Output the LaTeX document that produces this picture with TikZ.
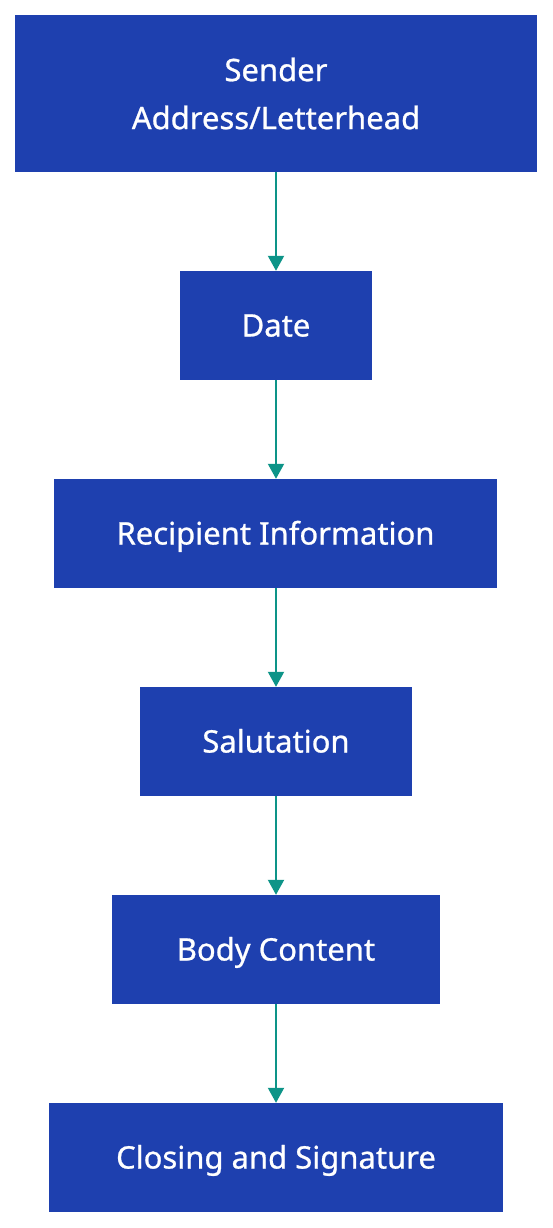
\documentclass[tikz,border=0pt]{standalone}
\usepackage{fontspec}
\setmainfont{Noto Sans}
\newfontfamily\boxfont{Noto Sans}[FakeBold=0.8]
\usetikzlibrary{arrows.meta}
\definecolor{boxblue}{HTML}{1E40AF}
\definecolor{arrteal}{HTML}{0D9488}
\tikzset{
  stepbox/.style={fill=boxblue, draw=none, text=white, inner sep=0pt, align=center,
    font=\boxfont\fontsize{31}{48}\selectfont},
  oneline/.style={stepbox, text height=22pt, text depth=0pt, minimum height=109pt},
  flow/.style={draw=arrteal, line width=2pt, -{Triangle[length=15pt,width=16pt]}, shorten >=0pt}
}
\begin{document}
\begin{tikzpicture}[x=1pt,y=-1pt]
\useasboundingbox (0,0) rectangle (552,1228);
\node[stepbox, minimum width=522pt, minimum height=157pt] (sender) at (276,93.5) {Sender\\Address/Letterhead};
\node[oneline, minimum width=192pt] (date) at (276,325.5) {Date};
\node[oneline, minimum width=443pt] (recip) at (275.5,533.5) {Recipient Information};
\node[oneline, minimum width=272pt] (salut) at (276,741.5) {Salutation};
\node[oneline, minimum width=328pt] (body) at (276,949.5) {Body Content};
\node[oneline, minimum width=454pt] (close) at (276,1157.5) {Closing and Signature};
\draw[flow] (sender.south -| date.north) -- (date.north);
\draw[flow] (date.south) -- (date.south |- recip.north);
\draw[flow] (date.south |- recip.south) -- (date.south |- salut.north);
\draw[flow] (salut.south) -- (body.north);
\draw[flow] (body.south) -- (close.north);
\end{tikzpicture}
\end{document}
